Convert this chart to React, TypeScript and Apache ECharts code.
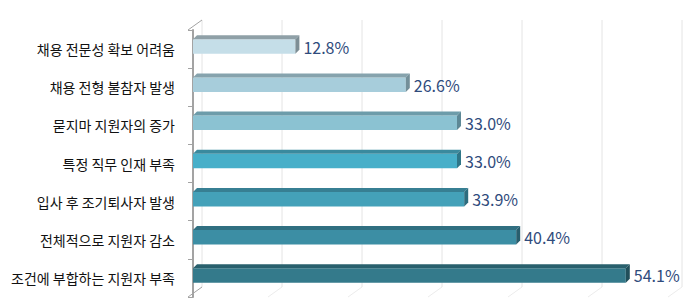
import React, { useEffect, useRef } from "react";
import * as echarts from "echarts";

const categories = [
  "채용 전문성 확보 어려움",
  "채용 전형 불참자 발생",
  "묻지마 지원자의 증가",
  "특정 직무 인재 부족",
  "입사 후 조기퇴사자 발생",
  "전체적으로 지원자 감소",
  "조건에 부합하는 지원자 부족",
];
const values = [12.8, 26.6, 33.0, 33.0, 33.9, 40.4, 54.1];
const gridTicks = [0, 10, 20, 30, 40, 50, 60];

const frontColors = ["#c5dee8", "#a7cddb", "#8bc2d2", "#47afc9", "#44a1b9", "#3c8ea4", "#347a8b"];
const topColors = ["#8fa0a7", "#86a3ad", "#6d9caa", "#3a8a9e", "#377f93", "#306f81", "#29606d"];
const sideColors = ["#7d8e95", "#738f99", "#5d8896", "#2f7688", "#2d6c7e", "#285e6e", "#214f5a"];

const FONT = '"Noto Sans CJK KR", "Noto Sans", sans-serif';

export default function App() {
  const ref = useRef<HTMLDivElement>(null);
  useEffect(() => {
    if (!ref.current) return;
    const chart = echarts.init(ref.current, undefined, { renderer: "svg" });
    const WDX = 14;
    const WDY = -10;
    const BX = 4;
    const BY = -4;
    chart.setOption({
      animation: false,
      backgroundColor: "#ffffff",
      grid: { left: 193, top: 30, width: 480, height: 267, containLabel: false },
      xAxis: {
        type: "value",
        min: 0,
        max: 60,
        interval: 10,
        show: false,
      },
      yAxis: {
        type: "category",
        data: categories,
        inverse: true,
        offset: 5,
        axisLine: { show: true, lineStyle: { color: "#a3a3a3", width: 2 } },
        axisTick: { show: true, length: 5, lineStyle: { color: "#a3a3a3", width: 1 } },
        axisLabel: {
          margin: 13,
          color: "#111111",
          fontSize: 14,
          fontFamily: FONT,
        },
        splitLine: { show: false },
      },
      series: [
        {
          type: "custom",
          silent: true,
          z: 1,
          data: gridTicks.map((t) => [t, 0]),
          encode: { x: 0, y: 1 },
          renderItem: (params: any, api: any) => {
            const v = api.value(0);
            const cs = params.coordSys;
            const top = cs.y;
            const bottom = cs.y + cs.height;
            const x = api.coord([v, 0])[0] + 9;
            const children: any[] = [
              {
                type: "line",
                shape: { x1: x, y1: top + WDY, x2: x, y2: bottom + WDY },
                style: { stroke: "#e4e4e4", lineWidth: 1 },
              },
              {
                type: "line",
                shape: { x1: x, y1: bottom + WDY, x2: x - WDX, y2: bottom },
                style: { stroke: v === 0 ? "#a3a3a3" : "#ececec", lineWidth: 1 },
              },
            ];
            if (v === 0) {
              children.push({
                type: "line",
                shape: { x1: x - WDX, y1: top, x2: x, y2: top + WDY },
                style: { stroke: "#a3a3a3", lineWidth: 1 },
              });
            }
            return { type: "group", children };
          },
        },
        {
          type: "custom",
          silent: true,
          z: 2,
          data: values.map((v, i) => [v, i]),
          encode: { x: 0, y: 1 },
          renderItem: (params: any, api: any) => {
            const v = api.value(0);
            const i = params.dataIndex;
            const p0 = api.coord([0, i]);
            const p1 = api.coord([v, i]);
            const x0 = p0[0];
            const x1 = p1[0];
            const cy = p0[1] - 2.5;
            const h = 14.5;
            const yT = cy - h / 2;
            const yB = cy + h / 2;
            return {
              type: "group",
              children: [
                {
                  type: "rect",
                  shape: { x: x0, y: yT, width: x1 - x0, height: h },
                  style: { fill: frontColors[i] },
                },
                {
                  type: "polygon",
                  shape: {
                    points: [
                      [x0, yT],
                      [x0 + BX, yT + BY],
                      [x1 + BX, yT + BY],
                      [x1, yT],
                    ],
                  },
                  style: { fill: topColors[i] },
                },
                {
                  type: "polygon",
                  shape: {
                    points: [
                      [x1, yT],
                      [x1 + BX, yT + BY],
                      [x1 + BX, yB + BY],
                      [x1, yB],
                    ],
                  },
                  style: { fill: sideColors[i] },
                },
                {
                  type: "text",
                  style: {
                    text: v.toFixed(1) + "%",
                    x: x1 + BX + 4,
                    y: cy,
                    align: "left",
                    verticalAlign: "middle",
                    fill: "#2f4b7c",
                    font: `16px ${FONT}`,
                  },
                },
              ],
            };
          },
        },
      ],
    });
    return () => chart.dispose();
  }, []);
  return (
    <div
      ref={ref}
      style={{ position: "fixed", left: 0, top: 0, width: 690, height: 304 }}
    />
  );
}
